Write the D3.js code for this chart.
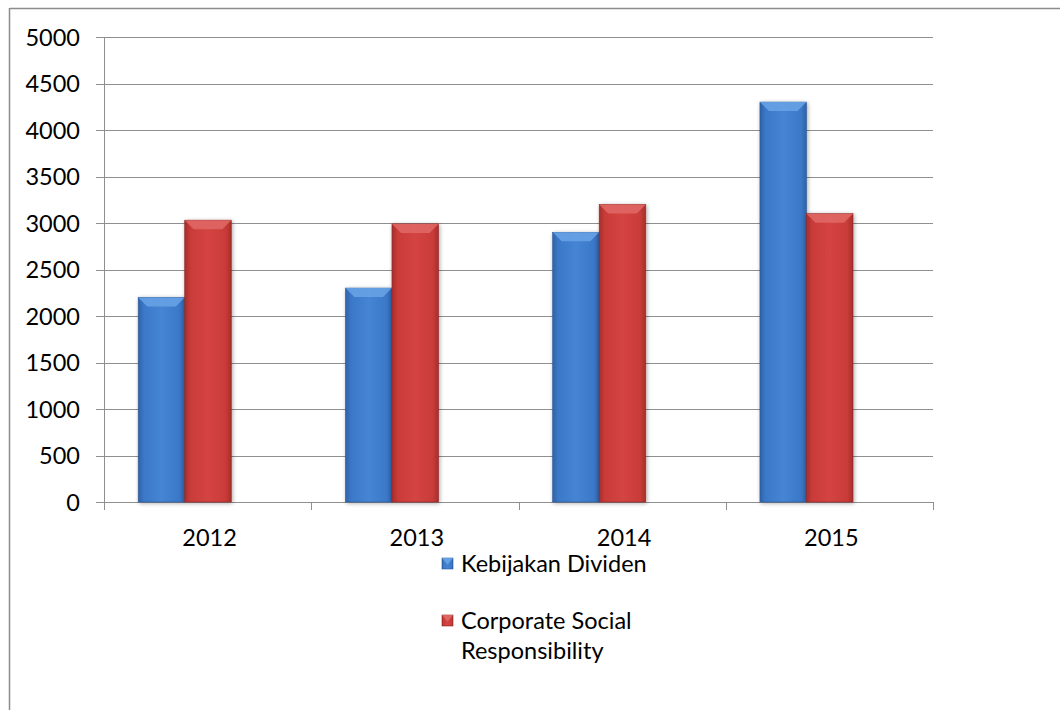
<!DOCTYPE html>
<html>
<head>
<meta charset="utf-8">
<script src="https://cdn.jsdelivr.net/npm/d3@7/dist/d3.min.js"></script>
<style>
  html, body { margin: 0; padding: 0; background: #fff; }
  svg { display: block; }
  text { font-family: Lato, "Open Sans", "Liberation Sans", sans-serif; fill: #000; }
</style>
</head>
<body>
<svg id="chart" width="1060" height="710"></svg>
<script>
// Data
const years = ["2012", "2013", "2014", "2015"];
const seriesNames = ["Kebijakan Dividen", "Corporate Social Responsibility"];
const kebijakanDividen = [2200, 2300, 2900, 4300];
const csr = [3030, 2990, 3200, 3100];
const yTicks = [0, 500, 1000, 1500, 2000, 2500, 3000, 3500, 4000, 4500, 5000];

const svg = d3.select("#chart");
const W = 1060, H = 710;
const FS = 23.5;

// Outer frame (top and left edges visible)
svg.append("line").attr("x1", 10).attr("x2", W).attr("y1", 8.5).attr("y2", 8.5)
  .attr("stroke", "#8c8c8c").attr("stroke-width", 1.5);
svg.append("line").attr("x1", 9.5).attr("x2", 9.5).attr("y1", 8).attr("y2", H)
  .attr("stroke", "#8c8c8c").attr("stroke-width", 1.5);

const plot = { left: 104, right: 933, top: 37, bottom: 502 };

const x = d3.scaleBand().domain(years).range([plot.left, plot.right]).padding(0);
const y = d3.scaleLinear().domain([0, 5000]).range([plot.bottom, plot.top]);

// Gradients
const defs = svg.append("defs");
function makeGrad(id, dark, mid, light) {
  const g = defs.append("linearGradient").attr("id", id).attr("x1", 0).attr("x2", 1).attr("y1", 0).attr("y2", 0);
  g.append("stop").attr("offset", "0%").attr("stop-color", dark);
  g.append("stop").attr("offset", "12%").attr("stop-color", mid);
  g.append("stop").attr("offset", "50%").attr("stop-color", light);
  g.append("stop").attr("offset", "88%").attr("stop-color", mid);
  g.append("stop").attr("offset", "100%").attr("stop-color", dark);
}
makeGrad("gBlue", "#2f62a8", "#3b78c8", "#4585d4");
makeGrad("gRed", "#a62e2c", "#c93b38", "#d44441");
const shadow = defs.append("filter").attr("id", "shadow").attr("x", "-20%").attr("y", "-5%").attr("width", "140%").attr("height", "110%");
shadow.append("feGaussianBlur").attr("in", "SourceAlpha").attr("stdDeviation", 2);
shadow.append("feOffset").attr("dx", 1).attr("dy", 1).attr("result", "b");
shadow.append("feComponentTransfer").append("feFuncA").attr("type", "linear").attr("slope", 0.35);
const m = shadow.append("feMerge");
m.append("feMergeNode");
m.append("feMergeNode").attr("in", "SourceGraphic");

// Gridlines and y ticks
const gridG = svg.append("g");
yTicks.forEach(t => {
  gridG.append("line").attr("x1", plot.left - 8).attr("x2", plot.right)
    .attr("y1", Math.round(y(t)) + 0.5).attr("y2", Math.round(y(t)) + 0.5)
    .attr("stroke", "#8f8f8f").attr("stroke-width", 1);
  gridG.append("text").attr("x", 80).attr("y", y(t) + 8.5)
    .attr("text-anchor", "end").attr("font-size", FS).text(t);
});
// Y axis line
svg.append("line").attr("x1", plot.left + 0.5).attr("x2", plot.left + 0.5)
  .attr("y1", plot.top).attr("y2", plot.bottom + 8).attr("stroke", "#8f8f8f");
// X axis tick marks
const xBounds = years.map(d => x(d)).concat([plot.right]);
xBounds.forEach(b => {
  svg.append("line").attr("x1", Math.round(b) + 0.5).attr("x2", Math.round(b) + 0.5)
    .attr("y1", plot.bottom).attr("y2", plot.bottom + 8).attr("stroke", "#8f8f8f");
});
// X labels
years.forEach(d => {
  svg.append("text").attr("x", x(d) + x.bandwidth() / 2 + 2).attr("y", 546)
    .attr("text-anchor", "middle").attr("font-size", FS).text(d);
});

// Bars with bevel
const barW = x.bandwidth() * 0.2245;
const groupOffset = x.bandwidth() * 0.165;
const seriesData = [kebijakanDividen, csr];
const fills = ["url(#gBlue)", "url(#gRed)"];
const bevelLight = ["#6aa3e6", "#e06a66"];
const bevelEdge = ["#2a5796", "#8f2624"];
const barsG = svg.append("g");
seriesData.forEach((vals, si) => {
  vals.forEach((v, i) => {
    const x0 = x(years[i]) + groupOffset + si * barW;
    const yt = y(v);
    const h = y(0) - yt;
    const g = barsG.append("g").attr("filter", "url(#shadow)");
    g.append("rect").attr("x", x0).attr("y", yt).attr("width", barW).attr("height", h)
      .attr("fill", fills[si]).attr("stroke", bevelEdge[si]).attr("stroke-width", 0.6);
    const b = 9;
    g.append("path")
      .attr("d", `M${x0},${yt} L${x0 + barW},${yt} L${x0 + barW - b},${yt + b} L${x0 + b},${yt + b} Z`)
      .attr("fill", bevelLight[si]).attr("opacity", 0.85);
  });
});

// Legend
const legend = svg.append("g");
const legendItems = [
  { y: 563, lines: ["Kebijakan Dividen"] },
  { y: 620, lines: ["Corporate Social", "Responsibility"] }
];
legendItems.forEach((it, i) => {
  legend.append("rect").attr("x", 442).attr("y", it.y - 5).attr("width", 11).attr("height", 11)
    .attr("fill", fills[i]).attr("stroke", bevelEdge[i]).attr("stroke-width", 0.6);
  legend.append("path")
    .attr("d", `M442,${it.y - 5} L453,${it.y - 5} L448,${it.y + 1} L447,${it.y + 1} Z`)
    .attr("fill", bevelLight[i]).attr("opacity", 0.9);
  it.lines.forEach((ln, j) => {
    legend.append("text").attr("x", 461).attr("y", it.y + 8.5 + j * 30)
      .attr("font-size", FS).text(ln);
  });
});
</script>
</body>
</html>
